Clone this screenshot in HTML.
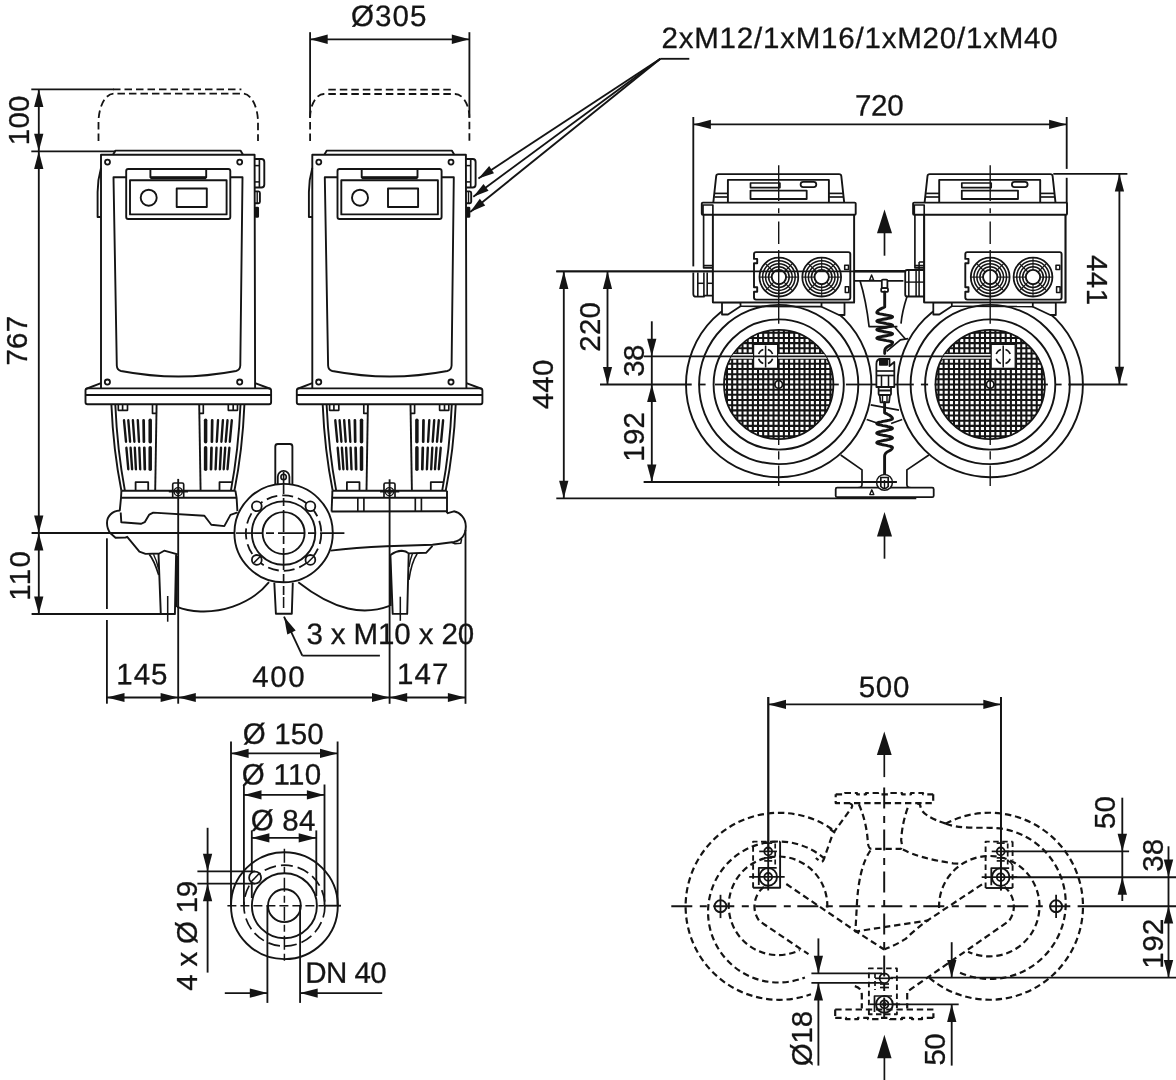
<!DOCTYPE html>
<html><head><meta charset="utf-8"><title>Dimension drawing</title>
<style>
html,body{margin:0;padding:0;background:#fff;}
svg{display:block;filter:grayscale(1);}
text{font-family:"Liberation Sans",sans-serif;fill:#141414;stroke:#141414;stroke-width:0.3px;}
</style></head>
<body>
<svg width="1176" height="1080" viewBox="0 0 1176 1080" fill="none" stroke="#141414" stroke-linecap="butt" stroke-linejoin="round">
<rect x="0" y="0" width="1176" height="1080" fill="#ffffff" stroke="none"/>
<line x1="31.3" y1="89.3" x2="113.8" y2="89.3" stroke-width="1.85"/>
<line x1="31.3" y1="151.3" x2="115.5" y2="151.3" stroke-width="1.85"/>
<line x1="38.8" y1="89.3" x2="38.8" y2="614.0" stroke-width="1.85"/>
<polygon points="38.8,89.3 43.4,106.9 34.1,106.9" fill="#141414" stroke="none"/>
<polygon points="38.8,151.3 34.1,133.7 43.4,133.7" fill="#141414" stroke="none"/>
<polygon points="38.8,151.3 43.4,168.9 34.1,168.9" fill="#141414" stroke="none"/>
<polygon points="38.8,533.0 34.1,515.4 43.4,515.4" fill="#141414" stroke="none"/>
<polygon points="38.8,533.0 43.4,550.6 34.1,550.6" fill="#141414" stroke="none"/>
<polygon points="38.8,614.0 34.1,596.4 43.4,596.4" fill="#141414" stroke="none"/>
<line x1="31.6" y1="533.0" x2="236.0" y2="533.0" stroke-width="1.85"/>
<line x1="31.6" y1="614.0" x2="175.2" y2="614.0" stroke-width="1.85"/>
<text x="29.5" y="120.4" font-size="29.5" text-anchor="middle" textLength="49.7" lengthAdjust="spacing" transform="rotate(-90 29.5 120.4)">100</text>
<text x="26.9" y="340.7" font-size="29.5" text-anchor="middle" textLength="49.7" lengthAdjust="spacing" transform="rotate(-90 26.9 340.7)">767</text>
<text x="30.0" y="576.0" font-size="29.5" text-anchor="middle" textLength="49.7" lengthAdjust="spacing" transform="rotate(-90 30.0 576.0)">110</text>
<line x1="310.1" y1="32.2" x2="310.1" y2="117.8" stroke-width="1.85"/>
<line x1="469.4" y1="32.2" x2="469.4" y2="117.8" stroke-width="1.85"/>
<line x1="310.1" y1="39.3" x2="469.4" y2="39.3" stroke-width="1.85"/>
<polygon points="310.1,39.3 327.7,34.6 327.7,43.9" fill="#141414" stroke="none"/>
<polygon points="469.4,39.3 451.8,43.9 451.8,34.6" fill="#141414" stroke="none"/>
<text x="388.7" y="26.0" font-size="29.5" text-anchor="middle" textLength="75.2" lengthAdjust="spacing" transform="rotate(0.03 388.7 26.0)">Ø305</text>
<line x1="106.9" y1="538.3" x2="106.9" y2="609.0" stroke-width="1.85"/>
<line x1="106.9" y1="620.0" x2="106.9" y2="703.7" stroke-width="1.85"/>
<line x1="178.2" y1="478.9" x2="178.2" y2="703.7" stroke-width="1.85"/>
<line x1="389.6" y1="479.3" x2="389.6" y2="703.8" stroke-width="1.85"/>
<line x1="465.5" y1="530.0" x2="465.5" y2="703.8" stroke-width="1.85"/>
<line x1="106.9" y1="697.5" x2="465.5" y2="697.5" stroke-width="1.85"/>
<polygon points="106.9,697.5 124.5,692.9 124.5,702.1" fill="#141414" stroke="none"/>
<polygon points="178.2,697.5 160.6,702.1 160.6,692.9" fill="#141414" stroke="none"/>
<polygon points="178.2,697.5 195.8,692.9 195.8,702.1" fill="#141414" stroke="none"/>
<polygon points="389.6,697.5 372.0,702.1 372.0,692.9" fill="#141414" stroke="none"/>
<polygon points="389.6,697.5 407.2,692.9 407.2,702.1" fill="#141414" stroke="none"/>
<polygon points="465.5,697.5 447.9,702.1 447.9,692.9" fill="#141414" stroke="none"/>
<text x="141.9" y="684.3" font-size="29.5" text-anchor="middle" textLength="51.2" lengthAdjust="spacing" transform="rotate(0.03 141.9 684.3)">145</text>
<text x="278.5" y="686.8" font-size="29.5" text-anchor="middle" textLength="52.5" lengthAdjust="spacing" transform="rotate(0.03 278.5 686.8)">400</text>
<text x="422.7" y="684.1" font-size="29.5" text-anchor="middle" textLength="51.2" lengthAdjust="spacing" transform="rotate(0.03 422.7 684.1)">147</text>
<text x="390.3" y="644.0" font-size="29.5" text-anchor="middle" textLength="167.6" lengthAdjust="spacing" transform="rotate(0.03 390.3 644.0)">3 x M10 x 20</text>
<line x1="302.3" y1="655.6" x2="379.9" y2="655.6" stroke-width="1.85"/>
<line x1="302.3" y1="655.6" x2="284.0" y2="616.7" stroke-width="1.85"/>
<polygon points="284.0,616.7 295.7,630.6 287.3,634.6" fill="#141414" stroke="none"/>
<text x="859.6" y="48.0" font-size="29.5" text-anchor="middle" textLength="396.2" lengthAdjust="spacing" transform="rotate(0.03 859.6 48.0)">2xM12/1xM16/1xM20/1xM40</text>
<line x1="660.4" y1="58.8" x2="689.3" y2="58.8" stroke-width="1.85"/>
<line x1="660.4" y1="58.8" x2="478.4" y2="178.4" stroke-width="1.85"/>
<polygon points="478.4,178.4 489.2,166.1 494.0,173.3" fill="#141414" stroke="none"/>
<line x1="660.4" y1="58.8" x2="473.3" y2="196.7" stroke-width="1.85"/>
<polygon points="473.3,196.7 483.5,183.9 488.6,190.8" fill="#141414" stroke="none"/>
<line x1="660.4" y1="58.8" x2="470.2" y2="212.0" stroke-width="1.85"/>
<polygon points="470.2,212.0 479.8,198.7 485.2,205.4" fill="#141414" stroke="none"/>
<line x1="693.3" y1="117.0" x2="693.3" y2="266.4" stroke-width="1.85"/>
<line x1="1066.7" y1="117.0" x2="1066.7" y2="168.9" stroke-width="1.85"/>
<line x1="1066.7" y1="177.8" x2="1066.7" y2="210.0" stroke-width="1.85"/>
<line x1="693.3" y1="124.4" x2="1066.7" y2="124.4" stroke-width="1.85"/>
<polygon points="693.3,124.4 710.9,119.8 710.9,129.1" fill="#141414" stroke="none"/>
<polygon points="1066.7,124.4 1049.1,129.1 1049.1,119.8" fill="#141414" stroke="none"/>
<text x="879.3" y="115.5" font-size="29.5" text-anchor="middle" textLength="48.7" lengthAdjust="spacing" transform="rotate(0.03 879.3 115.5)">720</text>
<line x1="556.3" y1="271.3" x2="904.6" y2="271.3" stroke-width="1.85"/>
<line x1="556.3" y1="498.3" x2="916.3" y2="498.3" stroke-width="1.85"/>
<line x1="563.8" y1="271.3" x2="563.8" y2="498.3" stroke-width="1.85"/>
<polygon points="563.8,271.3 568.4,288.9 559.1,288.9" fill="#141414" stroke="none"/>
<polygon points="563.8,498.3 559.1,480.7 568.4,480.7" fill="#141414" stroke="none"/>
<text x="553.0" y="384.5" font-size="29.5" text-anchor="middle" textLength="49.7" lengthAdjust="spacing" transform="rotate(-90 553.0 384.5)">440</text>
<line x1="607.5" y1="271.3" x2="607.5" y2="384.5" stroke-width="1.85"/>
<polygon points="607.5,271.3 612.1,288.9 602.9,288.9" fill="#141414" stroke="none"/>
<polygon points="607.5,384.5 602.9,366.9 612.1,366.9" fill="#141414" stroke="none"/>
<text x="600.0" y="326.9" font-size="29.5" text-anchor="middle" textLength="49.7" lengthAdjust="spacing" transform="rotate(-90 600.0 326.9)">220</text>
<line x1="651.8" y1="321.3" x2="651.8" y2="482.0" stroke-width="1.85"/>
<polygon points="651.8,356.3 647.1,338.7 656.4,338.7" fill="#141414" stroke="none"/>
<polygon points="651.8,384.5 656.4,402.1 647.1,402.1" fill="#141414" stroke="none"/>
<polygon points="651.8,482.0 647.1,464.4 656.4,464.4" fill="#141414" stroke="none"/>
<text x="643.8" y="360.6" font-size="29.5" text-anchor="middle" textLength="32.2" lengthAdjust="spacing" transform="rotate(-90 643.8 360.6)">38</text>
<text x="643.8" y="436.9" font-size="29.5" text-anchor="middle" textLength="49.7" lengthAdjust="spacing" transform="rotate(-90 643.8 436.9)">192</text>
<line x1="643.8" y1="482.0" x2="896.7" y2="482.0" stroke-width="1.85"/>
<line x1="1053.3" y1="173.9" x2="1127.4" y2="173.9" stroke-width="1.85"/>
<line x1="1119.4" y1="173.9" x2="1119.4" y2="384.3" stroke-width="1.85"/>
<polygon points="1119.4,173.9 1124.1,191.5 1114.8,191.5" fill="#141414" stroke="none"/>
<polygon points="1119.4,384.3 1114.8,366.7 1124.1,366.7" fill="#141414" stroke="none"/>
<text x="1087.4" y="280.0" font-size="29.5" text-anchor="middle" textLength="50.2" lengthAdjust="spacing" transform="rotate(90 1087.4 280.0)">441</text>
<line x1="884.5" y1="225.0" x2="884.5" y2="255.7" stroke-width="1.7"/>
<polygon points="884.5,209.6 892.0,233.3 877.0,233.3" fill="#141414" stroke="none"/>
<line x1="884.5" y1="530.0" x2="884.5" y2="558.7" stroke-width="1.7"/>
<polygon points="884.5,511.9 892.0,536.4 877.0,536.4" fill="#141414" stroke="none"/>
<line x1="231.0" y1="741.5" x2="231.0" y2="905.7" stroke-width="1.85"/>
<line x1="337.6" y1="741.5" x2="337.6" y2="905.7" stroke-width="1.85"/>
<line x1="243.9" y1="784.5" x2="243.9" y2="905.0" stroke-width="1.85"/>
<line x1="324.5" y1="784.5" x2="324.5" y2="905.7" stroke-width="1.85"/>
<line x1="251.8" y1="830.4" x2="251.8" y2="898.0" stroke-width="1.85"/>
<line x1="316.3" y1="830.4" x2="316.3" y2="896.0" stroke-width="1.85"/>
<line x1="324.5" y1="905.7" x2="341.0" y2="905.7" stroke-width="1.85"/>
<line x1="231.0" y1="753.4" x2="337.6" y2="753.4" stroke-width="1.85"/>
<polygon points="231.0,753.4 248.6,748.8 248.6,758.0" fill="#141414" stroke="none"/>
<polygon points="337.6,753.4 320.0,758.0 320.0,748.8" fill="#141414" stroke="none"/>
<line x1="243.9" y1="794.9" x2="324.5" y2="794.9" stroke-width="1.85"/>
<polygon points="243.9,794.9 261.5,790.2 261.5,799.5" fill="#141414" stroke="none"/>
<polygon points="324.5,794.9 306.9,799.5 306.9,790.2" fill="#141414" stroke="none"/>
<line x1="251.8" y1="837.9" x2="316.3" y2="837.9" stroke-width="1.85"/>
<polygon points="251.8,837.9 269.4,833.2 269.4,842.5" fill="#141414" stroke="none"/>
<polygon points="316.3,837.9 298.7,842.5 298.7,833.2" fill="#141414" stroke="none"/>
<text x="283.2" y="743.9" font-size="29.5" text-anchor="middle" textLength="80.9" lengthAdjust="spacing" transform="rotate(0.03 283.2 743.9)">Ø 150</text>
<text x="281.5" y="784.5" font-size="29.5" text-anchor="middle" textLength="79.4" lengthAdjust="spacing" transform="rotate(0.03 281.5 784.5)">Ø 110</text>
<text x="283.0" y="830.4" font-size="29.5" text-anchor="middle" textLength="64.6" lengthAdjust="spacing" transform="rotate(0.03 283.0 830.4)">Ø 84</text>
<line x1="197.4" y1="871.4" x2="255.0" y2="871.4" stroke-width="1.85"/>
<line x1="197.4" y1="883.6" x2="255.0" y2="883.6" stroke-width="1.85"/>
<line x1="207.6" y1="827.8" x2="207.6" y2="972.6" stroke-width="1.85"/>
<polygon points="207.6,871.4 202.9,853.8 212.2,853.8" fill="#141414" stroke="none"/>
<polygon points="207.6,883.6 212.2,901.2 202.9,901.2" fill="#141414" stroke="none"/>
<text x="197.4" y="935.7" font-size="29.5" text-anchor="middle" textLength="109.9" lengthAdjust="spacing" transform="rotate(-90 197.4 935.7)">4 x Ø 19</text>
<line x1="267.4" y1="905.7" x2="267.4" y2="1002.9" stroke-width="1.85"/>
<line x1="300.1" y1="905.7" x2="300.1" y2="1002.9" stroke-width="1.85"/>
<line x1="224.8" y1="993.1" x2="267.4" y2="993.1" stroke-width="1.85"/>
<polygon points="267.4,993.1 249.8,997.8 249.8,988.5" fill="#141414" stroke="none"/>
<line x1="300.1" y1="993.1" x2="382.2" y2="993.1" stroke-width="1.85"/>
<polygon points="300.1,993.1 317.7,988.5 317.7,997.8" fill="#141414" stroke="none"/>
<text x="346.0" y="982.8" font-size="29.5" text-anchor="middle" textLength="81.4" lengthAdjust="spacing" transform="rotate(0.03 346.0 982.8)">DN 40</text>
<line x1="768.4" y1="697.0" x2="768.4" y2="851.0" stroke-width="1.85"/>
<line x1="1000.9" y1="697.0" x2="1000.9" y2="890.4" stroke-width="1.85"/>
<line x1="768.4" y1="704.4" x2="1000.9" y2="704.4" stroke-width="1.85"/>
<polygon points="768.4,704.4 786.0,699.8 786.0,709.0" fill="#141414" stroke="none"/>
<polygon points="1000.9,704.4 983.3,709.0 983.3,699.8" fill="#141414" stroke="none"/>
<text x="884.0" y="697.0" font-size="29.5" text-anchor="middle" textLength="50.6" lengthAdjust="spacing" transform="rotate(0.03 884.0 697.0)">500</text>
<line x1="884.3" y1="750.0" x2="884.3" y2="777.1" stroke-width="1.7"/>
<polygon points="884.3,731.5 891.7,755.0 876.9,755.0" fill="#141414" stroke="none"/>
<line x1="884.4" y1="1055.0" x2="884.4" y2="1080.0" stroke-width="1.7"/>
<polygon points="884.4,1034.8 891.6,1058.3 877.2,1058.3" fill="#141414" stroke="none"/>
<line x1="1005.0" y1="851.4" x2="1129.1" y2="851.4" stroke-width="1.85"/>
<line x1="1010.0" y1="877.2" x2="1176.0" y2="877.2" stroke-width="1.85"/>
<line x1="1077.8" y1="906.2" x2="1176.0" y2="906.2" stroke-width="1.85"/>
<line x1="890.4" y1="977.6" x2="1176.0" y2="977.6" stroke-width="1.85"/>
<line x1="1122.3" y1="797.7" x2="1122.3" y2="901.0" stroke-width="1.85"/>
<polygon points="1122.3,851.4 1117.6,833.8 1127.0,833.8" fill="#141414" stroke="none"/>
<polygon points="1122.3,877.2 1127.0,894.8 1117.6,894.8" fill="#141414" stroke="none"/>
<line x1="1168.5" y1="846.3" x2="1168.5" y2="977.6" stroke-width="1.85"/>
<polygon points="1168.5,877.2 1163.8,859.6 1173.2,859.6" fill="#141414" stroke="none"/>
<polygon points="1168.5,905.9 1173.2,923.5 1163.8,923.5" fill="#141414" stroke="none"/>
<polygon points="1168.5,977.6 1163.8,960.0 1173.2,960.0" fill="#141414" stroke="none"/>
<text x="1115.3" y="812.6" font-size="29.5" text-anchor="middle" textLength="33.0" lengthAdjust="spacing" transform="rotate(-90 1115.3 812.6)">50</text>
<text x="1162.8" y="855.2" font-size="29.5" text-anchor="middle" textLength="33.0" lengthAdjust="spacing" transform="rotate(-90 1162.8 855.2)">38</text>
<text x="1162.8" y="943.6" font-size="29.5" text-anchor="middle" textLength="50.1" lengthAdjust="spacing" transform="rotate(-90 1162.8 943.6)">192</text>
<line x1="811.4" y1="973.4" x2="882.0" y2="973.4" stroke-width="1.85"/>
<line x1="811.4" y1="982.9" x2="882.0" y2="982.9" stroke-width="1.85"/>
<line x1="818.4" y1="938.4" x2="818.4" y2="973.4" stroke-width="1.85"/>
<polygon points="818.4,973.4 813.8,955.8 823.0,955.8" fill="#141414" stroke="none"/>
<line x1="818.4" y1="982.9" x2="818.4" y2="1065.6" stroke-width="1.85"/>
<polygon points="818.4,982.9 823.0,1000.5 813.8,1000.5" fill="#141414" stroke="none"/>
<text x="811.8" y="1038.5" font-size="29.5" text-anchor="middle" textLength="55.6" lengthAdjust="spacing" transform="rotate(-90 811.8 1038.5)">Ø18</text>
<line x1="893.0" y1="1004.3" x2="958.7" y2="1004.3" stroke-width="1.85"/>
<line x1="951.7" y1="942.2" x2="951.7" y2="977.6" stroke-width="1.85"/>
<polygon points="951.7,977.6 947.1,960.0 956.4,960.0" fill="#141414" stroke="none"/>
<line x1="951.7" y1="1004.3" x2="951.7" y2="1065.6" stroke-width="1.85"/>
<polygon points="951.7,1004.3 956.4,1021.9 947.1,1021.9" fill="#141414" stroke="none"/>
<text x="944.6" y="1049.3" font-size="29.5" text-anchor="middle" textLength="32.2" lengthAdjust="spacing" transform="rotate(-90 944.6 1049.3)">50</text>
<g transform="translate(0,0)">
<path d="M113,89.4 L241.4,89.4" stroke-width="1.8" fill="none" stroke-dasharray="7.5 4"/>
<path d="M98.5,140.9 L98.5,122.5 A15.3,28.9 0 0 1 113.8,93.6 L242.7,93.6 A15.3,28.9 0 0 1 258,122.5 L258,140.9" stroke-width="1.8" fill="none" stroke-dasharray="7.5 4"/>
<path d="M113,154.8 L115.5,150.6 L240.5,150.6 L243,154.8" stroke-width="1.9" fill="none"/>
<path d="M101,388.4 L101,154.8 L254.6,154.8 L255.1,388.4" stroke-width="1.9" fill="none"/>
<circle cx="107.5" cy="162.1" r="2.5" stroke-width="1.79" fill="none"/>
<circle cx="239.7" cy="162.1" r="2.5" stroke-width="1.79" fill="none"/>
<circle cx="107.4" cy="382.1" r="2.6" stroke-width="1.79" fill="none"/>
<circle cx="239.7" cy="382.1" r="2.6" stroke-width="1.79" fill="none"/>
<rect x="126.2" y="169.0" width="104.1" height="50.0" rx="2" stroke-width="1.9" fill="none"/>
<rect x="130.0" y="180.3" width="96.6" height="34.1" rx="0" stroke-width="1.9" fill="none"/>
<path d="M150.4,169 L150.4,177.2 L206.2,177.2 L206.2,169" stroke-width="1.9" fill="none"/>
<line x1="150.4" y1="178.0" x2="206.2" y2="178.0" stroke-width="2.6"/>
<circle cx="148.7" cy="197.7" r="8.0" stroke-width="1.9" fill="none"/>
<rect x="176.7" y="188.5" width="30.1" height="18.5" rx="0" stroke-width="1.9" fill="none"/>
<path d="M126.2,177.3 L113.5,177.3 L116.8,365.5 Q117,370 121,371 Q178.5,382 236,371 Q240,370 240.3,365.5 L242.5,177.3 L230.3,177.3" stroke-width="1.9" fill="none"/>
<path d="M101,168 Q97.6,180 97.6,192 L97.6,217 L101,217" stroke-width="1.9" fill="none"/>
<path d="M254.6,159 L261.5,159 Q264.3,159 264.3,162 L264.3,184.5 Q264.3,187.5 261.5,187.5 L254.6,187.5" stroke-width="1.9" fill="none"/>
<line x1="259.4" y1="159.0" x2="259.4" y2="187.5" stroke-width="1.66"/>
<line x1="254.6" y1="165.6" x2="259.4" y2="165.6" stroke-width="1.54"/>
<line x1="254.6" y1="181.9" x2="259.4" y2="181.9" stroke-width="1.54"/>
<path d="M254.8,191.4 L258.5,191.4 Q259.9,191.4 259.9,193 L259.9,201.8 Q259.9,203.3 258.5,203.3 L254.8,203.3" stroke-width="1.9" fill="none"/>
<line x1="257.2" y1="191.4" x2="257.2" y2="203.3" stroke-width="1.41"/>
<rect x="255.6" y="207.5" width="2.6" height="9.5" rx="0.5" stroke-width="1.66" fill="#141414"/>
<path d="M101,383.2 L85.8,389" stroke-width="1.9" fill="none"/>
<path d="M255.1,383.2 L270.8,389" stroke-width="1.9" fill="none"/>
<rect x="85.5" y="388.4" width="185.6" height="15.9" rx="2" stroke-width="1.9" fill="none"/>
<line x1="85.5" y1="395.0" x2="271.1" y2="395.0" stroke-width="1.9"/>
</g>
<g transform="translate(211.3,0)">
<path d="M117,89.6 L241.5,89.6" stroke-width="1.8" fill="none" stroke-dasharray="7.5 4"/>
<path d="M98.8,141 L98.8,117.8 A13.8,23.8 0 0 1 112.6,94 L243.7,94 A14.4,23.8 0 0 1 258.1,117.8 L258.1,141" stroke-width="1.8" fill="none" stroke-dasharray="7.5 4"/>
<path d="M113,154.8 L115.5,150.6 L240.5,150.6 L243,154.8" stroke-width="1.9" fill="none"/>
<path d="M101,388.4 L101,154.8 L254.6,154.8 L255.1,388.4" stroke-width="1.9" fill="none"/>
<circle cx="107.5" cy="162.1" r="2.5" stroke-width="1.79" fill="none"/>
<circle cx="239.7" cy="162.1" r="2.5" stroke-width="1.79" fill="none"/>
<circle cx="107.4" cy="382.1" r="2.6" stroke-width="1.79" fill="none"/>
<circle cx="239.7" cy="382.1" r="2.6" stroke-width="1.79" fill="none"/>
<rect x="126.2" y="169.0" width="104.1" height="50.0" rx="2" stroke-width="1.9" fill="none"/>
<rect x="130.0" y="180.3" width="96.6" height="34.1" rx="0" stroke-width="1.9" fill="none"/>
<path d="M150.4,169 L150.4,177.2 L206.2,177.2 L206.2,169" stroke-width="1.9" fill="none"/>
<line x1="150.4" y1="178.0" x2="206.2" y2="178.0" stroke-width="2.6"/>
<circle cx="148.7" cy="197.7" r="8.0" stroke-width="1.9" fill="none"/>
<rect x="176.7" y="188.5" width="30.1" height="18.5" rx="0" stroke-width="1.9" fill="none"/>
<path d="M126.2,177.3 L113.5,177.3 L116.8,365.5 Q117,370 121,371 Q178.5,382 236,371 Q240,370 240.3,365.5 L242.5,177.3 L230.3,177.3" stroke-width="1.9" fill="none"/>
<path d="M101,168 Q97.6,180 97.6,192 L97.6,217 L101,217" stroke-width="1.9" fill="none"/>
<path d="M254.6,159 L261.5,159 Q264.3,159 264.3,162 L264.3,184.5 Q264.3,187.5 261.5,187.5 L254.6,187.5" stroke-width="1.9" fill="none"/>
<line x1="259.4" y1="159.0" x2="259.4" y2="187.5" stroke-width="1.66"/>
<line x1="254.6" y1="165.6" x2="259.4" y2="165.6" stroke-width="1.54"/>
<line x1="254.6" y1="181.9" x2="259.4" y2="181.9" stroke-width="1.54"/>
<path d="M254.8,191.4 L258.5,191.4 Q259.9,191.4 259.9,193 L259.9,201.8 Q259.9,203.3 258.5,203.3 L254.8,203.3" stroke-width="1.9" fill="none"/>
<line x1="257.2" y1="191.4" x2="257.2" y2="203.3" stroke-width="1.41"/>
<rect x="255.6" y="207.5" width="2.6" height="9.5" rx="0.5" stroke-width="1.66" fill="#141414"/>
<path d="M101,383.2 L85.8,389" stroke-width="1.9" fill="none"/>
<path d="M255.1,383.2 L270.8,389" stroke-width="1.9" fill="none"/>
<rect x="85.5" y="388.4" width="185.6" height="15.9" rx="2" stroke-width="1.9" fill="none"/>
<line x1="85.5" y1="395.0" x2="271.1" y2="395.0" stroke-width="1.9"/>
</g>
<g transform="translate(0,0)">
<path d="M111.4,404.6 Q113.3,450 121.4,490.7" stroke-width="1.9" fill="none"/>
<path d="M115.3,404.6 Q117.3,450 124.9,490.7" stroke-width="1.9" fill="none"/>
<path d="M156.6,404.6 L155.2,490.7" stroke-width="1.9" fill="none"/>
<path d="M118.3,404.6 L118.3,410.3 L127.5,410.3 L127.5,404.6 M122.6,404.6 L122.6,410.3" stroke-width="1.66" fill="none"/>
<path d="M152.5,404.6 L152.5,413.4 L156.3,413.4" stroke-width="1.66" fill="none"/>
<path d="M135.6,490.7 L135.6,482.2 L148.2,482.2 L148.2,490.7" stroke-width="1.79" fill="none"/>
<line x1="124.0" y1="420.3" x2="126.0" y2="441.7" stroke-width="2.4" stroke-linecap="round"/>
<line x1="128.3" y1="420.3" x2="130.1" y2="441.7" stroke-width="2.4" stroke-linecap="round"/>
<line x1="132.9" y1="420.3" x2="134.4" y2="441.7" stroke-width="2.4" stroke-linecap="round"/>
<line x1="137.8" y1="420.3" x2="139.0" y2="441.7" stroke-width="2.4" stroke-linecap="round"/>
<line x1="143.6" y1="420.3" x2="143.9" y2="441.7" stroke-width="2.7" stroke-linecap="round"/>
<line x1="150.2" y1="420.3" x2="150.2" y2="441.7" stroke-width="3.5" stroke-linecap="round"/>
<line x1="126.4" y1="447.8" x2="128.3" y2="469.2" stroke-width="2.4" stroke-linecap="round"/>
<line x1="130.6" y1="447.8" x2="132.1" y2="469.2" stroke-width="2.4" stroke-linecap="round"/>
<line x1="134.8" y1="447.8" x2="135.9" y2="469.2" stroke-width="2.4" stroke-linecap="round"/>
<line x1="139.3" y1="447.8" x2="140.2" y2="469.2" stroke-width="2.4" stroke-linecap="round"/>
<line x1="144.3" y1="447.8" x2="144.8" y2="469.2" stroke-width="2.7" stroke-linecap="round"/>
<line x1="150.2" y1="447.8" x2="150.2" y2="469.2" stroke-width="3.5" stroke-linecap="round"/>
</g>
<g transform="translate(0,0) translate(355.8,0) scale(-1,1)">
<path d="M111.4,404.6 Q113.3,450 121.4,490.7" stroke-width="1.9" fill="none"/>
<path d="M115.3,404.6 Q117.3,450 124.9,490.7" stroke-width="1.9" fill="none"/>
<path d="M156.6,404.6 L155.2,490.7" stroke-width="1.9" fill="none"/>
<path d="M118.3,404.6 L118.3,410.3 L127.5,410.3 L127.5,404.6 M122.6,404.6 L122.6,410.3" stroke-width="1.66" fill="none"/>
<path d="M152.5,404.6 L152.5,413.4 L156.3,413.4" stroke-width="1.66" fill="none"/>
<path d="M123.9,482.2 L136.3,482.2 L136.3,490.7" stroke-width="1.79" fill="none"/>
<line x1="124.0" y1="420.3" x2="126.0" y2="441.7" stroke-width="2.4" stroke-linecap="round"/>
<line x1="128.3" y1="420.3" x2="130.1" y2="441.7" stroke-width="2.4" stroke-linecap="round"/>
<line x1="132.9" y1="420.3" x2="134.4" y2="441.7" stroke-width="2.4" stroke-linecap="round"/>
<line x1="137.8" y1="420.3" x2="139.0" y2="441.7" stroke-width="2.4" stroke-linecap="round"/>
<line x1="143.6" y1="420.3" x2="143.9" y2="441.7" stroke-width="2.7" stroke-linecap="round"/>
<line x1="150.2" y1="420.3" x2="150.2" y2="441.7" stroke-width="3.5" stroke-linecap="round"/>
<line x1="126.4" y1="447.8" x2="128.3" y2="469.2" stroke-width="2.4" stroke-linecap="round"/>
<line x1="130.6" y1="447.8" x2="132.1" y2="469.2" stroke-width="2.4" stroke-linecap="round"/>
<line x1="134.8" y1="447.8" x2="135.9" y2="469.2" stroke-width="2.4" stroke-linecap="round"/>
<line x1="139.3" y1="447.8" x2="140.2" y2="469.2" stroke-width="2.4" stroke-linecap="round"/>
<line x1="144.3" y1="447.8" x2="144.8" y2="469.2" stroke-width="2.7" stroke-linecap="round"/>
<line x1="150.2" y1="447.8" x2="150.2" y2="469.2" stroke-width="3.5" stroke-linecap="round"/>
</g>
<g transform="translate(0,0)">
<line x1="121.4" y1="490.7" x2="235.4" y2="490.7" stroke-width="1.9"/>
<line x1="121.2" y1="497.7" x2="236.4" y2="497.7" stroke-width="1.9"/>
<path d="M172.7,497.7 L172.7,484.5 Q172.7,483 174.2,483 L182.2,483 Q183.7,483 183.7,484.5 L183.7,497.7" stroke-width="1.66" fill="none"/>
<circle cx="178.2" cy="491.7" r="4.1" stroke-width="1.4" fill="none"/>
<circle cx="178.2" cy="491.7" r="1.8" stroke-width="1.1" fill="none"/>
<line x1="168.8" y1="491.7" x2="188.0" y2="491.7" stroke-width="1.54"/>
</g>
<g transform="translate(211.3,0)">
<path d="M111.4,404.6 Q113.3,450 121.4,490.7" stroke-width="1.9" fill="none"/>
<path d="M115.3,404.6 Q117.3,450 124.9,490.7" stroke-width="1.9" fill="none"/>
<path d="M156.6,404.6 L155.2,490.7" stroke-width="1.9" fill="none"/>
<path d="M118.3,404.6 L118.3,410.3 L127.5,410.3 L127.5,404.6 M122.6,404.6 L122.6,410.3" stroke-width="1.66" fill="none"/>
<path d="M152.5,404.6 L152.5,413.4 L156.3,413.4" stroke-width="1.66" fill="none"/>
<path d="M135.6,490.7 L135.6,482.2 L148.2,482.2 L148.2,490.7" stroke-width="1.79" fill="none"/>
<line x1="124.0" y1="420.3" x2="126.0" y2="441.7" stroke-width="2.4" stroke-linecap="round"/>
<line x1="128.3" y1="420.3" x2="130.1" y2="441.7" stroke-width="2.4" stroke-linecap="round"/>
<line x1="132.9" y1="420.3" x2="134.4" y2="441.7" stroke-width="2.4" stroke-linecap="round"/>
<line x1="137.8" y1="420.3" x2="139.0" y2="441.7" stroke-width="2.4" stroke-linecap="round"/>
<line x1="143.6" y1="420.3" x2="143.9" y2="441.7" stroke-width="2.7" stroke-linecap="round"/>
<line x1="150.2" y1="420.3" x2="150.2" y2="441.7" stroke-width="3.5" stroke-linecap="round"/>
<line x1="126.4" y1="447.8" x2="128.3" y2="469.2" stroke-width="2.4" stroke-linecap="round"/>
<line x1="130.6" y1="447.8" x2="132.1" y2="469.2" stroke-width="2.4" stroke-linecap="round"/>
<line x1="134.8" y1="447.8" x2="135.9" y2="469.2" stroke-width="2.4" stroke-linecap="round"/>
<line x1="139.3" y1="447.8" x2="140.2" y2="469.2" stroke-width="2.4" stroke-linecap="round"/>
<line x1="144.3" y1="447.8" x2="144.8" y2="469.2" stroke-width="2.7" stroke-linecap="round"/>
<line x1="150.2" y1="447.8" x2="150.2" y2="469.2" stroke-width="3.5" stroke-linecap="round"/>
</g>
<g transform="translate(211.3,0) translate(355.8,0) scale(-1,1)">
<path d="M111.4,404.6 Q113.3,450 121.4,490.7" stroke-width="1.9" fill="none"/>
<path d="M115.3,404.6 Q117.3,450 124.9,490.7" stroke-width="1.9" fill="none"/>
<path d="M156.6,404.6 L155.2,490.7" stroke-width="1.9" fill="none"/>
<path d="M118.3,404.6 L118.3,410.3 L127.5,410.3 L127.5,404.6 M122.6,404.6 L122.6,410.3" stroke-width="1.66" fill="none"/>
<path d="M152.5,404.6 L152.5,413.4 L156.3,413.4" stroke-width="1.66" fill="none"/>
<path d="M123.9,482.2 L136.3,482.2 L136.3,490.7" stroke-width="1.79" fill="none"/>
<line x1="124.0" y1="420.3" x2="126.0" y2="441.7" stroke-width="2.4" stroke-linecap="round"/>
<line x1="128.3" y1="420.3" x2="130.1" y2="441.7" stroke-width="2.4" stroke-linecap="round"/>
<line x1="132.9" y1="420.3" x2="134.4" y2="441.7" stroke-width="2.4" stroke-linecap="round"/>
<line x1="137.8" y1="420.3" x2="139.0" y2="441.7" stroke-width="2.4" stroke-linecap="round"/>
<line x1="143.6" y1="420.3" x2="143.9" y2="441.7" stroke-width="2.7" stroke-linecap="round"/>
<line x1="150.2" y1="420.3" x2="150.2" y2="441.7" stroke-width="3.5" stroke-linecap="round"/>
<line x1="126.4" y1="447.8" x2="128.3" y2="469.2" stroke-width="2.4" stroke-linecap="round"/>
<line x1="130.6" y1="447.8" x2="132.1" y2="469.2" stroke-width="2.4" stroke-linecap="round"/>
<line x1="134.8" y1="447.8" x2="135.9" y2="469.2" stroke-width="2.4" stroke-linecap="round"/>
<line x1="139.3" y1="447.8" x2="140.2" y2="469.2" stroke-width="2.4" stroke-linecap="round"/>
<line x1="144.3" y1="447.8" x2="144.8" y2="469.2" stroke-width="2.7" stroke-linecap="round"/>
<line x1="150.2" y1="447.8" x2="150.2" y2="469.2" stroke-width="3.5" stroke-linecap="round"/>
</g>
<g transform="translate(211.3,0)">
<line x1="121.4" y1="490.7" x2="235.4" y2="490.7" stroke-width="1.9"/>
<line x1="121.2" y1="497.7" x2="236.4" y2="497.7" stroke-width="1.9"/>
<path d="M172.7,497.7 L172.7,484.5 Q172.7,483 174.2,483 L182.2,483 Q183.7,483 183.7,484.5 L183.7,497.7" stroke-width="1.66" fill="none"/>
<circle cx="178.2" cy="491.7" r="4.1" stroke-width="1.4" fill="none"/>
<circle cx="178.2" cy="491.7" r="1.8" stroke-width="1.1" fill="none"/>
<line x1="168.8" y1="491.7" x2="188.0" y2="491.7" stroke-width="1.54"/>
</g>
<path d="M121.4,490.7 L121,497.8 L119.8,510.5 C112,511 106.8,516.5 107,523.3 C107.1,528 108.5,531 110.5,533.3 L115.5,537.7 L125.3,537.6 L127.2,536.8 L139.4,551.6 L145.5,553.9 L159.3,553.5 L164.2,550.7 L177.7,554.4" stroke-width="1.9" fill="none"/>
<path d="M120.7,512.5 L121.3,522.2 L140.9,523.8 L144.7,522.2 L149.3,514.6 L153.2,512.6 L204.4,515.7 L211.3,524.8 L224.3,526.1 L230.5,514.9 L237.6,512.3" stroke-width="1.9" fill="none"/>
<path d="M235.4,490.7 L236.6,497.8 L237.4,511" stroke-width="1.9" fill="none"/>
<path d="M158.5,553.9 L160.8,614.1 L174.9,614.1 L176.1,554.4" stroke-width="1.9" fill="none"/>
<path d="M149.3,554.4 Q154,560 158.7,575" stroke-width="1.66" fill="none"/>
<path d="M153.5,554.2 Q156.5,560 158.6,569" stroke-width="1.41" fill="none"/>
<line x1="167.7" y1="596.0" x2="167.7" y2="621.7" stroke-width="1.54"/>
<path d="M177,606.9 C188,611.5 210,614.5 232.8,606.7 C250,600.5 262,591 269,582.2" stroke-width="1.9" fill="none"/>
<line x1="177.2" y1="556.0" x2="176.6" y2="607.0" stroke-width="2.0"/>
<path d="M332.4,490.7 L331.6,511.5" stroke-width="1.9" fill="none"/>
<path d="M447,490.7 L447,513.3" stroke-width="1.9" fill="none"/>
<path d="M331.4,511.5 L447,511.3" stroke-width="1.9" fill="none"/>
<line x1="357.8" y1="497.7" x2="357.8" y2="511.3" stroke-width="1.66"/>
<line x1="363.9" y1="497.7" x2="363.9" y2="511.3" stroke-width="1.66"/>
<line x1="415.3" y1="497.7" x2="415.3" y2="511.3" stroke-width="1.66"/>
<line x1="421.4" y1="497.7" x2="421.4" y2="511.3" stroke-width="1.66"/>
<path d="M447,513.3 L453.9,511.3 C460,512.5 465.8,518 465.8,526.6 C465.8,535 461,540.5 453.9,542 L432.5,544.7 L386.5,546.2 Q355,547.5 330.5,550.6" stroke-width="1.9" fill="none"/>
<path d="M451.5,542.4 L455,543.7 L460.8,543.2 L461.6,539.2" stroke-width="1.54" fill="none"/>
<path d="M390.4,555 L392.7,613.9 L407.2,613.9 L408.7,553.4" stroke-width="1.9" fill="none"/>
<path d="M390.4,555 Q396,551 401.8,550.8 Q406,551 408.7,553.4 L426.3,552.7 L432.5,545.8" stroke-width="1.9" fill="none"/>
<path d="M417.1,553.9 Q411.5,562 408.9,580" stroke-width="1.66" fill="none"/>
<path d="M412.5,553.6 Q410,560 409,567" stroke-width="1.41" fill="none"/>
<line x1="400.3" y1="596.7" x2="400.3" y2="620.8" stroke-width="1.54"/>
<line x1="390.0" y1="556.0" x2="390.6" y2="606.0" stroke-width="2.0"/>
<path d="M389.6,605.9 C380,609.5 365,612.5 348,608.5 C330,604 312,593 298.3,582.2" stroke-width="1.9" fill="none"/>
<path d="M275.3,484.4 L275.3,446.5 Q275.3,444 277.8,444 L289.9,444 Q292.4,444 292.4,446.5 L292.4,484.4" stroke-width="1.9" fill="none"/>
<path d="M274.3,582.6 L275.9,613.7 L291.8,613.7 L292.8,582.6" stroke-width="1.9" fill="none"/>
<circle cx="283.6" cy="533.1" r="49.2" stroke-width="1.9" fill="#fff"/>
<circle cx="283.6" cy="533.1" r="31.7" stroke-width="1.9" fill="none"/>
<circle cx="283.6" cy="533.1" r="21.0" stroke-width="1.9" fill="none"/>
<circle cx="283.6" cy="533.1" r="37.7" stroke-width="1.79" fill="none" stroke-dasharray="11 5"/>
<circle cx="256.8" cy="506.3" r="4.9" stroke-width="1.79" fill="#fff"/>
<circle cx="256.8" cy="559.9" r="4.9" stroke-width="1.79" fill="#fff"/>
<line x1="253.4" y1="563.3" x2="260.2" y2="556.5" stroke-width="1.54"/>
<circle cx="310.4" cy="506.3" r="4.9" stroke-width="1.79" fill="#fff"/>
<circle cx="310.4" cy="559.9" r="4.9" stroke-width="1.79" fill="#fff"/>
<line x1="307.0" y1="563.3" x2="313.8" y2="556.5" stroke-width="1.54"/>
<path d="M277.8,484.3 L277.8,476.7 A5.8,5.8 0 0 1 289.40000000000003,476.7 L289.40000000000003,484.3" stroke-width="1.79" fill="none"/>
<circle cx="283.6" cy="476.9" r="2.7" stroke-width="1.6" fill="none"/>
<line x1="236.0" y1="533.1" x2="344.4" y2="533.1" stroke-width="1.66" stroke-dasharray="26 4 8 4"/>
<path d="M283.6,472 L283.6,595" stroke-width="1.66" fill="none" stroke-dasharray="22 4 8 4"/>
<line x1="283.6" y1="597.0" x2="283.6" y2="608.0" stroke-width="1.54"/>
<defs>
<clipPath id="mc0"><circle cx="778.7" cy="384.5" r="54.7"/></clipPath>
<clipPath id="mc1"><circle cx="990.2" cy="384.5" r="54.7"/></clipPath>
</defs>
<g transform="translate(0.0,0)">
</g>
<circle cx="778.7" cy="384.5" r="92.7" stroke-width="1.9" fill="#fff"/>
<g transform="translate(0.0,0)">
<path d="M722,302.4 L722,314.5 L728,314.5 L740.5,306.2 L740.5,302.4 Z" stroke-width="1.79" fill="#fff"/>
<path d="M844.5,302.4 L844.5,315 L839,315 L821.5,306.8 L821.5,302.4 Z" stroke-width="1.79" fill="#fff"/>
<line x1="740.5" y1="306.3" x2="821.5" y2="306.6" stroke-width="1.6"/>
</g>
<circle cx="778.7" cy="384.5" r="79.6" stroke-width="1.9" fill="none"/>
<circle cx="778.7" cy="384.5" r="65.1" stroke-width="1.9" fill="none"/>
<g clip-path="url(#mc0)" stroke-width="2.05">
<line x1="721.83" y1="328.5" x2="721.83" y2="440.5"/>
<line x1="722.7" y1="327.63" x2="834.7" y2="327.63"/>
<line x1="727.00" y1="328.5" x2="727.00" y2="440.5"/>
<line x1="722.7" y1="332.80" x2="834.7" y2="332.80"/>
<line x1="732.17" y1="328.5" x2="732.17" y2="440.5"/>
<line x1="722.7" y1="337.97" x2="834.7" y2="337.97"/>
<line x1="737.34" y1="328.5" x2="737.34" y2="440.5"/>
<line x1="722.7" y1="343.14" x2="834.7" y2="343.14"/>
<line x1="742.51" y1="328.5" x2="742.51" y2="440.5"/>
<line x1="722.7" y1="348.31" x2="834.7" y2="348.31"/>
<line x1="747.68" y1="328.5" x2="747.68" y2="440.5"/>
<line x1="722.7" y1="353.48" x2="834.7" y2="353.48"/>
<line x1="752.85" y1="328.5" x2="752.85" y2="440.5"/>
<line x1="722.7" y1="358.65" x2="834.7" y2="358.65"/>
<line x1="758.02" y1="328.5" x2="758.02" y2="440.5"/>
<line x1="722.7" y1="363.82" x2="834.7" y2="363.82"/>
<line x1="763.19" y1="328.5" x2="763.19" y2="440.5"/>
<line x1="722.7" y1="368.99" x2="834.7" y2="368.99"/>
<line x1="768.36" y1="328.5" x2="768.36" y2="440.5"/>
<line x1="722.7" y1="374.16" x2="834.7" y2="374.16"/>
<line x1="773.53" y1="328.5" x2="773.53" y2="440.5"/>
<line x1="722.7" y1="379.33" x2="834.7" y2="379.33"/>
<line x1="778.70" y1="328.5" x2="778.70" y2="440.5"/>
<line x1="722.7" y1="384.50" x2="834.7" y2="384.50"/>
<line x1="783.87" y1="328.5" x2="783.87" y2="440.5"/>
<line x1="722.7" y1="389.67" x2="834.7" y2="389.67"/>
<line x1="789.04" y1="328.5" x2="789.04" y2="440.5"/>
<line x1="722.7" y1="394.84" x2="834.7" y2="394.84"/>
<line x1="794.21" y1="328.5" x2="794.21" y2="440.5"/>
<line x1="722.7" y1="400.01" x2="834.7" y2="400.01"/>
<line x1="799.38" y1="328.5" x2="799.38" y2="440.5"/>
<line x1="722.7" y1="405.18" x2="834.7" y2="405.18"/>
<line x1="804.55" y1="328.5" x2="804.55" y2="440.5"/>
<line x1="722.7" y1="410.35" x2="834.7" y2="410.35"/>
<line x1="809.72" y1="328.5" x2="809.72" y2="440.5"/>
<line x1="722.7" y1="415.52" x2="834.7" y2="415.52"/>
<line x1="814.89" y1="328.5" x2="814.89" y2="440.5"/>
<line x1="722.7" y1="420.69" x2="834.7" y2="420.69"/>
<line x1="820.06" y1="328.5" x2="820.06" y2="440.5"/>
<line x1="722.7" y1="425.86" x2="834.7" y2="425.86"/>
<line x1="825.23" y1="328.5" x2="825.23" y2="440.5"/>
<line x1="722.7" y1="431.03" x2="834.7" y2="431.03"/>
<line x1="830.40" y1="328.5" x2="830.40" y2="440.5"/>
<line x1="722.7" y1="436.20" x2="834.7" y2="436.20"/>
<line x1="835.57" y1="328.5" x2="835.57" y2="440.5"/>
<line x1="722.7" y1="441.37" x2="834.7" y2="441.37"/>
</g>
<circle cx="778.7" cy="384.5" r="54.7" stroke-width="1.8" fill="none"/>
<g clip-path="url(#mc0)"><rect x="722.7" y="354.1" width="112" height="4.6" fill="#fff" stroke="none"/></g>
<rect x="753.6" y="344.4" width="24" height="24" fill="#fff" stroke-width="1.2"/>
<path d="M772.6,358.7 A7.4,7.4 0 0 1 767.9,363.4" stroke-width="1.6" fill="none"/>
<path d="M763.3,363.4 A7.4,7.4 0 0 1 758.6,358.7" stroke-width="1.6" fill="none"/>
<path d="M758.6,354.1 A7.4,7.4 0 0 1 763.3,349.4" stroke-width="1.6" fill="none"/>
<path d="M767.9,349.4 A7.4,7.4 0 0 1 772.6,354.1" stroke-width="1.6" fill="none"/>
<line x1="765.6" y1="345.5" x2="765.6" y2="367.5" stroke-width="1.54"/>
<circle cx="778.7" cy="384.5" r="3.8" stroke-width="1.79" fill="#fff"/>
<line x1="778.7" y1="380.7" x2="778.7" y2="388.3" stroke-width="1.66"/>
<g transform="translate(0.0,0)">
<path d="M712.9,302.4 L712.9,214.8 M854.1,214.8 L854.1,302.4 L712.9,302.4" stroke-width="1.9" fill="none"/>
<rect x="712.9" y="214.8" width="141.2" height="87.6" fill="#fff" stroke="none"/>
<path d="M712.9,214.8 L712.9,302.4 L854.1,302.4 L854.1,214.8" stroke-width="1.9" fill="none"/>
<rect x="701.8" y="202.6" width="153.9" height="12.2" rx="1" stroke-width="1.9" fill="#fff"/>
<path d="M703,214.8 L703,205 L712.9,205 L712.9,214.8" stroke-width="1.66" fill="none"/>
<path d="M703.6,214.8 L703.6,267.9 L712.9,267.9 M703.6,265.6 L712.9,265.6" stroke-width="1.66" fill="none"/>
<path d="M713.3,202.6 L716.2,176 Q716.4,174.1 718.5,174.1 L839,174.1 Q841.1,174.1 841.3,176 L844.2,202.6" stroke-width="1.9" fill="none"/>
<path d="M727.9,202.6 L727.9,179.9 L828.9,179.9 L828.9,202.6" stroke-width="1.9" fill="none"/>
<line x1="714.8" y1="193.4" x2="727.9" y2="193.4" stroke-width="1.66"/>
<line x1="714.4" y1="197.0" x2="727.9" y2="197.0" stroke-width="1.66"/>
<line x1="828.9" y1="193.4" x2="842.9" y2="193.4" stroke-width="1.66"/>
<line x1="828.9" y1="197.0" x2="843.3" y2="197.0" stroke-width="1.66"/>
<rect x="750.5" y="183.0" width="29.4" height="4.6" rx="0" stroke-width="1.7" fill="none"/>
<rect x="750.5" y="190.6" width="56.2" height="8.4" rx="0" stroke-width="1.79" fill="none"/>
<rect x="800.6" y="181.9" width="15.7" height="5.3" rx="2.6" stroke-width="1.79" fill="none"/>
<path d="M756,252.1 L848.3,252.1 Q850.3,252.1 850.3,254.1 L850.3,297.6 Q850.3,299.6 848.3,299.6 L756,299.6 Q754,299.6 754,297.6 L754,291.7 L757.2,291.7 L757.2,287.2 L754,287.2 L754,263.3 L757.2,263.3 L757.2,258.9 L754,258.9 L754,254.1 Q754,252.1 756,252.1 Z" stroke-width="1.9" fill="none"/>
<rect x="844.7" y="265.3" width="3.8" height="4.3" rx="0" stroke-width="1.54" fill="none"/>
<rect x="845.3" y="286.7" width="3.5" height="5.7" rx="0" stroke-width="1.54" fill="none"/>
<circle cx="778.9" cy="277.1" r="19.4" stroke-width="1.79" fill="none"/>
<circle cx="778.9" cy="277.1" r="16.3" stroke-width="1.54" fill="none"/>
<circle cx="778.9" cy="277.1" r="13.3" stroke-width="1.54" fill="none"/>
<circle cx="778.9" cy="277.1" r="10.3" stroke-width="1.54" fill="none"/>
<circle cx="778.9" cy="277.1" r="7.2" stroke-width="1.9" fill="#fff"/>
<line x1="786.1" y1="277.1" x2="798.3" y2="277.1" stroke-width="1.1"/>
<line x1="784.0" y1="282.2" x2="792.6" y2="290.8" stroke-width="1.1"/>
<line x1="778.9" y1="284.3" x2="778.9" y2="296.5" stroke-width="1.1"/>
<line x1="773.8" y1="282.2" x2="765.2" y2="290.8" stroke-width="1.1"/>
<line x1="771.7" y1="277.1" x2="759.5" y2="277.1" stroke-width="1.1"/>
<line x1="773.8" y1="272.0" x2="765.2" y2="263.4" stroke-width="1.1"/>
<line x1="778.9" y1="269.9" x2="778.9" y2="257.7" stroke-width="1.1"/>
<line x1="784.0" y1="272.0" x2="792.6" y2="263.4" stroke-width="1.1"/>
<circle cx="821.7" cy="277.1" r="19.4" stroke-width="1.79" fill="none"/>
<circle cx="821.7" cy="277.1" r="16.3" stroke-width="1.54" fill="none"/>
<circle cx="821.7" cy="277.1" r="13.3" stroke-width="1.54" fill="none"/>
<circle cx="821.7" cy="277.1" r="10.3" stroke-width="1.54" fill="none"/>
<circle cx="821.7" cy="277.1" r="7.2" stroke-width="1.9" fill="#fff"/>
<line x1="828.9" y1="277.1" x2="841.1" y2="277.1" stroke-width="1.1"/>
<line x1="826.8" y1="282.2" x2="835.4" y2="290.8" stroke-width="1.1"/>
<line x1="821.7" y1="284.3" x2="821.7" y2="296.5" stroke-width="1.1"/>
<line x1="816.6" y1="282.2" x2="808.0" y2="290.8" stroke-width="1.1"/>
<line x1="814.5" y1="277.1" x2="802.3" y2="277.1" stroke-width="1.1"/>
<line x1="816.6" y1="272.0" x2="808.0" y2="263.4" stroke-width="1.1"/>
<line x1="821.7" y1="269.9" x2="821.7" y2="257.7" stroke-width="1.1"/>
<line x1="826.8" y1="272.0" x2="835.4" y2="263.4" stroke-width="1.1"/>
</g>
<g transform="translate(211.3,0)">
</g>
<circle cx="990.2" cy="384.5" r="92.7" stroke-width="1.9" fill="#fff"/>
<g transform="translate(211.3,0)">
<path d="M722,302.4 L722,314.5 L728,314.5 L740.5,306.2 L740.5,302.4 Z" stroke-width="1.79" fill="#fff"/>
<path d="M844.5,302.4 L844.5,315 L839,315 L821.5,306.8 L821.5,302.4 Z" stroke-width="1.79" fill="#fff"/>
<line x1="740.5" y1="306.3" x2="821.5" y2="306.6" stroke-width="1.6"/>
</g>
<circle cx="990.2" cy="384.5" r="79.6" stroke-width="1.9" fill="none"/>
<circle cx="990.2" cy="384.5" r="65.1" stroke-width="1.9" fill="none"/>
<g clip-path="url(#mc1)" stroke-width="2.05">
<line x1="933.33" y1="328.5" x2="933.33" y2="440.5"/>
<line x1="934.2" y1="327.63" x2="1046.2" y2="327.63"/>
<line x1="938.50" y1="328.5" x2="938.50" y2="440.5"/>
<line x1="934.2" y1="332.80" x2="1046.2" y2="332.80"/>
<line x1="943.67" y1="328.5" x2="943.67" y2="440.5"/>
<line x1="934.2" y1="337.97" x2="1046.2" y2="337.97"/>
<line x1="948.84" y1="328.5" x2="948.84" y2="440.5"/>
<line x1="934.2" y1="343.14" x2="1046.2" y2="343.14"/>
<line x1="954.01" y1="328.5" x2="954.01" y2="440.5"/>
<line x1="934.2" y1="348.31" x2="1046.2" y2="348.31"/>
<line x1="959.18" y1="328.5" x2="959.18" y2="440.5"/>
<line x1="934.2" y1="353.48" x2="1046.2" y2="353.48"/>
<line x1="964.35" y1="328.5" x2="964.35" y2="440.5"/>
<line x1="934.2" y1="358.65" x2="1046.2" y2="358.65"/>
<line x1="969.52" y1="328.5" x2="969.52" y2="440.5"/>
<line x1="934.2" y1="363.82" x2="1046.2" y2="363.82"/>
<line x1="974.69" y1="328.5" x2="974.69" y2="440.5"/>
<line x1="934.2" y1="368.99" x2="1046.2" y2="368.99"/>
<line x1="979.86" y1="328.5" x2="979.86" y2="440.5"/>
<line x1="934.2" y1="374.16" x2="1046.2" y2="374.16"/>
<line x1="985.03" y1="328.5" x2="985.03" y2="440.5"/>
<line x1="934.2" y1="379.33" x2="1046.2" y2="379.33"/>
<line x1="990.20" y1="328.5" x2="990.20" y2="440.5"/>
<line x1="934.2" y1="384.50" x2="1046.2" y2="384.50"/>
<line x1="995.37" y1="328.5" x2="995.37" y2="440.5"/>
<line x1="934.2" y1="389.67" x2="1046.2" y2="389.67"/>
<line x1="1000.54" y1="328.5" x2="1000.54" y2="440.5"/>
<line x1="934.2" y1="394.84" x2="1046.2" y2="394.84"/>
<line x1="1005.71" y1="328.5" x2="1005.71" y2="440.5"/>
<line x1="934.2" y1="400.01" x2="1046.2" y2="400.01"/>
<line x1="1010.88" y1="328.5" x2="1010.88" y2="440.5"/>
<line x1="934.2" y1="405.18" x2="1046.2" y2="405.18"/>
<line x1="1016.05" y1="328.5" x2="1016.05" y2="440.5"/>
<line x1="934.2" y1="410.35" x2="1046.2" y2="410.35"/>
<line x1="1021.22" y1="328.5" x2="1021.22" y2="440.5"/>
<line x1="934.2" y1="415.52" x2="1046.2" y2="415.52"/>
<line x1="1026.39" y1="328.5" x2="1026.39" y2="440.5"/>
<line x1="934.2" y1="420.69" x2="1046.2" y2="420.69"/>
<line x1="1031.56" y1="328.5" x2="1031.56" y2="440.5"/>
<line x1="934.2" y1="425.86" x2="1046.2" y2="425.86"/>
<line x1="1036.73" y1="328.5" x2="1036.73" y2="440.5"/>
<line x1="934.2" y1="431.03" x2="1046.2" y2="431.03"/>
<line x1="1041.90" y1="328.5" x2="1041.90" y2="440.5"/>
<line x1="934.2" y1="436.20" x2="1046.2" y2="436.20"/>
<line x1="1047.07" y1="328.5" x2="1047.07" y2="440.5"/>
<line x1="934.2" y1="441.37" x2="1046.2" y2="441.37"/>
</g>
<circle cx="990.2" cy="384.5" r="54.7" stroke-width="1.8" fill="none"/>
<g clip-path="url(#mc1)"><rect x="934.2" y="354.1" width="57" height="4.6" fill="#fff" stroke="none"/></g>
<rect x="991.2" y="344.4" width="24" height="24" fill="#fff" stroke-width="1.2"/>
<path d="M1010.2,358.7 A7.4,7.4 0 0 1 1005.5,363.4" stroke-width="1.6" fill="none"/>
<path d="M1000.9,363.4 A7.4,7.4 0 0 1 996.2,358.7" stroke-width="1.6" fill="none"/>
<path d="M996.2,354.1 A7.4,7.4 0 0 1 1000.9,349.4" stroke-width="1.6" fill="none"/>
<path d="M1005.5,349.4 A7.4,7.4 0 0 1 1010.2,354.1" stroke-width="1.6" fill="none"/>
<line x1="1003.2" y1="345.5" x2="1003.2" y2="367.5" stroke-width="1.54"/>
<circle cx="990.2" cy="384.5" r="3.8" stroke-width="1.79" fill="#fff"/>
<line x1="990.2" y1="380.7" x2="990.2" y2="388.3" stroke-width="1.66"/>
<g transform="translate(211.3,0)">
<path d="M712.9,302.4 L712.9,214.8 M854.1,214.8 L854.1,302.4 L712.9,302.4" stroke-width="1.9" fill="none"/>
<rect x="712.9" y="214.8" width="141.2" height="87.6" fill="#fff" stroke="none"/>
<path d="M712.9,214.8 L712.9,302.4 L854.1,302.4 L854.1,214.8" stroke-width="1.9" fill="none"/>
<rect x="701.8" y="202.6" width="153.9" height="12.2" rx="1" stroke-width="1.9" fill="#fff"/>
<path d="M703,214.8 L703,205 L712.9,205 L712.9,214.8" stroke-width="1.66" fill="none"/>
<path d="M703.6,214.8 L703.6,267.9 L712.9,267.9 M703.6,265.6 L712.9,265.6" stroke-width="1.66" fill="none"/>
<path d="M713.3,202.6 L716.2,176 Q716.4,174.1 718.5,174.1 L839,174.1 Q841.1,174.1 841.3,176 L844.2,202.6" stroke-width="1.9" fill="none"/>
<path d="M727.9,202.6 L727.9,179.9 L828.9,179.9 L828.9,202.6" stroke-width="1.9" fill="none"/>
<line x1="714.8" y1="193.4" x2="727.9" y2="193.4" stroke-width="1.66"/>
<line x1="714.4" y1="197.0" x2="727.9" y2="197.0" stroke-width="1.66"/>
<line x1="828.9" y1="193.4" x2="842.9" y2="193.4" stroke-width="1.66"/>
<line x1="828.9" y1="197.0" x2="843.3" y2="197.0" stroke-width="1.66"/>
<rect x="750.5" y="183.0" width="29.4" height="4.6" rx="0" stroke-width="1.7" fill="none"/>
<rect x="750.5" y="190.6" width="56.2" height="8.4" rx="0" stroke-width="1.79" fill="none"/>
<rect x="800.6" y="181.9" width="15.7" height="5.3" rx="2.6" stroke-width="1.79" fill="none"/>
<path d="M756,252.1 L848.3,252.1 Q850.3,252.1 850.3,254.1 L850.3,297.6 Q850.3,299.6 848.3,299.6 L756,299.6 Q754,299.6 754,297.6 L754,291.7 L757.2,291.7 L757.2,287.2 L754,287.2 L754,263.3 L757.2,263.3 L757.2,258.9 L754,258.9 L754,254.1 Q754,252.1 756,252.1 Z" stroke-width="1.9" fill="none"/>
<rect x="844.7" y="265.3" width="3.8" height="4.3" rx="0" stroke-width="1.54" fill="none"/>
<rect x="845.3" y="286.7" width="3.5" height="5.7" rx="0" stroke-width="1.54" fill="none"/>
<circle cx="778.9" cy="277.1" r="19.4" stroke-width="1.79" fill="none"/>
<circle cx="778.9" cy="277.1" r="16.3" stroke-width="1.54" fill="none"/>
<circle cx="778.9" cy="277.1" r="13.3" stroke-width="1.54" fill="none"/>
<circle cx="778.9" cy="277.1" r="10.3" stroke-width="1.54" fill="none"/>
<circle cx="778.9" cy="277.1" r="7.2" stroke-width="1.9" fill="#fff"/>
<line x1="786.1" y1="277.1" x2="798.3" y2="277.1" stroke-width="1.1"/>
<line x1="784.0" y1="282.2" x2="792.6" y2="290.8" stroke-width="1.1"/>
<line x1="778.9" y1="284.3" x2="778.9" y2="296.5" stroke-width="1.1"/>
<line x1="773.8" y1="282.2" x2="765.2" y2="290.8" stroke-width="1.1"/>
<line x1="771.7" y1="277.1" x2="759.5" y2="277.1" stroke-width="1.1"/>
<line x1="773.8" y1="272.0" x2="765.2" y2="263.4" stroke-width="1.1"/>
<line x1="778.9" y1="269.9" x2="778.9" y2="257.7" stroke-width="1.1"/>
<line x1="784.0" y1="272.0" x2="792.6" y2="263.4" stroke-width="1.1"/>
<circle cx="821.7" cy="277.1" r="19.4" stroke-width="1.79" fill="none"/>
<circle cx="821.7" cy="277.1" r="16.3" stroke-width="1.54" fill="none"/>
<circle cx="821.7" cy="277.1" r="13.3" stroke-width="1.54" fill="none"/>
<circle cx="821.7" cy="277.1" r="10.3" stroke-width="1.54" fill="none"/>
<circle cx="821.7" cy="277.1" r="7.2" stroke-width="1.9" fill="#fff"/>
<line x1="828.9" y1="277.1" x2="841.1" y2="277.1" stroke-width="1.1"/>
<line x1="826.8" y1="282.2" x2="835.4" y2="290.8" stroke-width="1.1"/>
<line x1="821.7" y1="284.3" x2="821.7" y2="296.5" stroke-width="1.1"/>
<line x1="816.6" y1="282.2" x2="808.0" y2="290.8" stroke-width="1.1"/>
<line x1="814.5" y1="277.1" x2="802.3" y2="277.1" stroke-width="1.1"/>
<line x1="816.6" y1="272.0" x2="808.0" y2="263.4" stroke-width="1.1"/>
<line x1="821.7" y1="269.9" x2="821.7" y2="257.7" stroke-width="1.1"/>
<line x1="826.8" y1="272.0" x2="835.4" y2="263.4" stroke-width="1.1"/>
</g>
<path d="M693.3,272.5 L693.3,293.9 Q693.3,296.7 696.1,296.7 L703.9,296.7 L703.9,295.6 L712.8,295.6" stroke-width="1.8" fill="none"/>
<line x1="697.8" y1="272.5" x2="697.8" y2="296.7" stroke-width="1.6"/>
<line x1="703.9" y1="272.5" x2="703.9" y2="296.7" stroke-width="1.6"/>
<line x1="707.2" y1="272.5" x2="707.2" y2="295.6" stroke-width="1.6"/>
<line x1="697.8" y1="283.3" x2="703.9" y2="283.3" stroke-width="1.5"/>
<line x1="707.2" y1="283.3" x2="712.8" y2="283.3" stroke-width="1.5"/>
<line x1="778.7" y1="165.3" x2="778.7" y2="201.0" stroke-width="1.4"/>
<line x1="778.7" y1="208.2" x2="778.7" y2="213.3" stroke-width="1.4"/>
<line x1="778.7" y1="221.4" x2="778.7" y2="243.9" stroke-width="1.4"/>
<line x1="778.7" y1="250.0" x2="778.7" y2="323.7" stroke-width="1.4"/>
<line x1="778.7" y1="439.2" x2="778.7" y2="445.0" stroke-width="1.4"/>
<line x1="778.7" y1="451.2" x2="778.7" y2="459.4" stroke-width="1.4"/>
<line x1="778.7" y1="465.5" x2="778.7" y2="486.0" stroke-width="1.4"/>
<line x1="990.2" y1="165.3" x2="990.2" y2="201.0" stroke-width="1.4"/>
<line x1="990.2" y1="208.2" x2="990.2" y2="213.3" stroke-width="1.4"/>
<line x1="990.2" y1="221.4" x2="990.2" y2="243.9" stroke-width="1.4"/>
<line x1="990.2" y1="250.0" x2="990.2" y2="323.7" stroke-width="1.4"/>
<line x1="990.2" y1="439.2" x2="990.2" y2="445.0" stroke-width="1.4"/>
<line x1="990.2" y1="451.2" x2="990.2" y2="459.4" stroke-width="1.4"/>
<line x1="990.2" y1="465.5" x2="990.2" y2="486.0" stroke-width="1.4"/>
<line x1="600.0" y1="384.5" x2="691.7" y2="384.5" stroke-width="1.79"/>
<line x1="698.8" y1="384.5" x2="705.6" y2="384.5" stroke-width="1.79"/>
<line x1="715.0" y1="384.5" x2="724.5" y2="384.5" stroke-width="1.79"/>
<line x1="833.2" y1="384.5" x2="838.8" y2="384.5" stroke-width="1.79"/>
<line x1="845.9" y1="384.5" x2="876.4" y2="384.5" stroke-width="1.79"/>
<line x1="894.3" y1="384.5" x2="913.8" y2="384.5" stroke-width="1.79"/>
<line x1="920.9" y1="384.5" x2="928.1" y2="384.5" stroke-width="1.79"/>
<line x1="934.7" y1="384.5" x2="936.5" y2="384.5" stroke-width="1.79"/>
<line x1="1044.5" y1="384.5" x2="1047.9" y2="384.5" stroke-width="1.79"/>
<line x1="1055.5" y1="384.5" x2="1061.6" y2="384.5" stroke-width="1.79"/>
<line x1="1068.3" y1="384.5" x2="1127.4" y2="384.5" stroke-width="1.79"/>
<line x1="854.1" y1="271.2" x2="905.0" y2="271.2" stroke-width="2.2"/>
<line x1="854.7" y1="280.9" x2="903.4" y2="280.9" stroke-width="1.6"/>
<path d="M869.5,280.2 L871.6,275 L873.7,280.2 Z" stroke-width="1.41" fill="none"/>
<path d="M869.8,494.6 L871.8,489.8 L873.8,494.6 Z" stroke-width="1.41" fill="none"/>
<path d="M860.1,281 Q866,300 869.1,326.6 L897.4,326.6 M907,296.5 Q902,312 901,323.6" stroke-width="1.7" fill="none"/>
<path d="M895,327.2 L905.2,338.7 M886.6,351.3 L900.4,339.9 L908.2,338.7" stroke-width="1.7" fill="none"/>
<path d="M923.9,270 L907.2,270 Q905.2,270 905.2,272 L905.2,294.5 Q905.2,296.5 907.2,296.5 L923.9,296.5" stroke-width="1.79" fill="none"/>
<line x1="908.8" y1="270.0" x2="908.8" y2="296.5" stroke-width="1.54"/>
<line x1="916.1" y1="270.0" x2="916.1" y2="296.5" stroke-width="1.54"/>
<line x1="919.1" y1="270.0" x2="919.1" y2="296.5" stroke-width="1.54"/>
<line x1="905.2" y1="282.1" x2="923.9" y2="282.1" stroke-width="1.41"/>
<line x1="919.1" y1="262.0" x2="923.9" y2="262.0" stroke-width="1.54"/>
<line x1="919.1" y1="262.0" x2="919.1" y2="270.0" stroke-width="1.54"/>
<rect x="881.8" y="279.7" width="5.6" height="8.5" rx="1" stroke-width="1.79" fill="#fff"/>
<rect x="881.2" y="288.2" width="6.8" height="3.6" rx="0.8" stroke-width="1.79" fill="#fff"/>
<path d="M884.7,292.0 L884.7,307.0 L884.7,307.0 L882.9,307.8 L881.3,308.6 L879.8,309.4 L878.5,310.2 L877.6,311.0 L877.0,311.8 L876.8,312.6 L877.0,312.9 L877.6,313.2 L878.5,313.5 L879.8,313.8 L881.3,314.1 L882.9,314.4 L884.7,314.8 L886.5,315.1 L888.1,315.4 L889.6,315.7 L890.9,316.0 L891.8,316.3 L892.4,316.6 L892.6,316.9 L892.4,317.2 L891.8,317.5 L890.9,317.8 L889.6,318.1 L888.1,318.4 L886.5,318.7 L884.7,319.0 L882.9,319.3 L881.3,319.6 L879.8,319.9 L878.5,320.2 L877.6,320.5 L877.0,320.8 L876.8,321.1 L877.0,321.4 L877.6,321.7 L878.5,322.0 L879.8,322.3 L881.3,322.6 L882.9,322.9 L884.7,323.2 L886.5,323.6 L888.1,323.9 L889.6,324.2 L890.9,324.5 L891.8,324.8 L892.4,325.1 L892.6,325.4 L892.4,325.7 L891.8,326.0 L890.9,326.3 L889.6,326.6 L888.1,326.9 L886.5,327.2 L884.7,327.5 L882.9,327.8 L881.3,328.1 L879.8,328.4 L878.5,328.7 L877.6,329.0 L877.0,329.3 L876.8,329.6 L877.0,329.9 L877.6,330.2 L878.5,330.5 L879.8,330.8 L881.3,331.1 L882.9,331.4 L884.7,331.8 L886.5,332.1 L888.1,332.4 L889.6,332.7 L890.9,333.0 L891.8,333.3 L892.4,333.6 L892.6,333.9 L892.4,334.2 L891.8,334.5 L890.9,334.8 L889.6,335.1 L888.1,335.4 L886.5,335.7 L884.7,336.0 L882.9,336.3 L881.3,336.6 L879.8,336.9 L878.5,337.2 L877.6,337.5 L877.0,337.8 L876.8,338.1 L877.0,338.4 L877.6,338.7 L878.5,339.0 L879.8,339.3 L881.3,339.6 L882.9,339.9 L884.7,340.2 L886.5,340.6 L888.1,340.9 L889.6,341.2 L890.9,341.5 L891.8,341.8 L892.4,342.1 L892.6,342.4 C892.6,346.4 884.7,345.4 884.7,350.9 L884.7,353.5" stroke-width="2.9" fill="none" stroke-linejoin="round" stroke-linecap="round"/>
<path d="M876.4,387 L876.4,364 Q876.4,359 881,359 L889.5,359 L889.5,366 L894.3,362 L894.3,387 Z" stroke-width="1.79" fill="#fff"/>
<rect x="879.8" y="359.0" width="7.4" height="6.0" rx="0" stroke-width="1.6" fill="#141414"/>
<line x1="876.4" y1="371.0" x2="894.3" y2="371.0" stroke-width="1.66"/>
<line x1="876.4" y1="375.5" x2="894.3" y2="375.5" stroke-width="1.66"/>
<line x1="881.5" y1="375.5" x2="881.5" y2="387.0" stroke-width="1.54"/>
<line x1="888.5" y1="375.5" x2="888.5" y2="387.0" stroke-width="1.54"/>
<rect x="878.6" y="387.0" width="12.4" height="8.0" rx="1" stroke-width="1.79" fill="#fff"/>
<line x1="878.6" y1="390.5" x2="891.0" y2="390.5" stroke-width="2"/>
<path d="M879.6,395 L880.6,402.4 L889,402.4 L890,395" stroke-width="1.79" fill="none"/>
<line x1="882.5" y1="395.0" x2="882.5" y2="402.4" stroke-width="1.41"/>
<line x1="887.0" y1="395.0" x2="887.0" y2="402.4" stroke-width="1.41"/>
<path d="M884.6,402.4 L884.6,412.8 L884.6,412.8 L886.4,413.6 L888.0,414.5 L889.5,415.3 L890.8,416.2 L891.7,417.0 L892.3,417.9 L892.5,418.7 L892.3,419.0 L891.7,419.4 L890.8,419.7 L889.5,420.1 L888.0,420.4 L886.4,420.8 L884.6,421.1 L882.8,421.4 L881.2,421.8 L879.7,422.1 L878.4,422.5 L877.5,422.8 L876.9,423.2 L876.7,423.5 L876.9,423.8 L877.5,424.2 L878.4,424.5 L879.7,424.9 L881.2,425.2 L882.8,425.6 L884.6,425.9 L886.4,426.2 L888.0,426.6 L889.5,426.9 L890.8,427.3 L891.7,427.6 L892.3,428.0 L892.5,428.3 L892.3,428.6 L891.7,429.0 L890.8,429.3 L889.5,429.7 L888.0,430.0 L886.4,430.4 L884.6,430.7 L882.8,431.0 L881.2,431.4 L879.7,431.7 L878.4,432.1 L877.5,432.4 L876.9,432.8 L876.7,433.1 L876.9,433.4 L877.5,433.8 L878.4,434.1 L879.7,434.5 L881.2,434.8 L882.8,435.2 L884.6,435.5 L886.4,435.8 L888.0,436.2 L889.5,436.5 L890.8,436.9 L891.7,437.2 L892.3,437.6 L892.5,437.9 L892.3,438.2 L891.7,438.6 L890.8,438.9 L889.5,439.3 L888.0,439.6 L886.4,440.0 L884.6,440.3 L882.8,440.6 L881.2,441.0 L879.7,441.3 L878.4,441.7 L877.5,442.0 L876.9,442.4 L876.7,442.7 L876.9,443.0 L877.5,443.4 L878.4,443.7 L879.7,444.1 L881.2,444.4 L882.8,444.8 L884.6,445.1 L886.4,445.4 L888.0,445.8 L889.5,446.1 L890.8,446.5 L891.7,446.8 L892.3,447.2 L892.5,447.5 C892.5,451.5 884.6,450.5 884.6,456.0 L884.6,475.0" stroke-width="2.9" fill="none" stroke-linejoin="round" stroke-linecap="round"/>
<path d="M870.7,404.9 L899,410.1 M866.7,419.5 L878.5,423.5 M891.1,423.5 L902.2,419.5" stroke-width="1.66" fill="none"/>
<path d="M840.7,455 L862,469.9 L862,484.4 Q862,487.7 858.5,487.7" stroke-width="1.7" fill="none"/>
<path d="M928.9,455 L906.9,469.9 L906.9,484.4 Q906.9,487.7 910.4,487.7" stroke-width="1.7" fill="none"/>
<rect x="835.7" y="487.7" width="98.0" height="9.5" rx="1.5" stroke-width="1.8" fill="#fff"/>
<path d="M869.8,494.6 L871.8,489.8 L873.8,494.6 Z" stroke-width="1.41" fill="none"/>
<circle cx="884.5" cy="482.4" r="7.9" stroke-width="1.5" fill="#fff"/>
<path d="M880.8,477.5 L880.8,486.5 Q884.5,490.5 888.2,486.5 L888.2,477.5 Z" stroke-width="1.66" fill="none"/>
<line x1="884.5" y1="480.0" x2="884.5" y2="488.5" stroke-width="1.41"/>
<line x1="643.8" y1="482.0" x2="896.7" y2="482.0" stroke-width="1.85"/>
<line x1="643.8" y1="356.3" x2="991.0" y2="356.3" stroke-width="1.85"/>
<line x1="556.3" y1="271.3" x2="904.6" y2="271.3" stroke-width="1.85"/>
<circle cx="284.4" cy="905.7" r="53.4" stroke-width="1.9" fill="none"/>
<circle cx="284.4" cy="905.7" r="40.5" stroke-width="1.7" fill="none" stroke-dasharray="12 5"/>
<circle cx="284.4" cy="905.7" r="32.5" stroke-width="1.9" fill="none"/>
<circle cx="284.4" cy="905.7" r="16.4" stroke-width="1.9" fill="none"/>
<circle cx="255.1" cy="877.7" r="6.0" stroke-width="1.79" fill="#fff"/>
<line x1="251.2" y1="881.8" x2="259.4" y2="873.2" stroke-width="1.54"/>
<path d="M227.39999999999998,905.7 L324.4,905.7" stroke-width="1.5" fill="none" stroke-dasharray="9 4"/>
<path d="M284.4,848.7 L284.4,961.7" stroke-width="1.5" fill="none" stroke-dasharray="14 4 7 4"/>
<path d="M832.0,829.2 A93.5,93.5 0 1 0 811.0,994.2" stroke-width="2.2" fill="none" stroke-dasharray="6.4 3.8"/>
<path d="M824.8,858.8 A70.5,70.5 0 1 0 804.9,977.4" stroke-width="2.2" fill="none" stroke-dasharray="6.4 3.8"/>
<path d="M827.3,907.5 A49.3,49.3 0 1 0 799.6,950.1" stroke-width="2.2" fill="none" stroke-dasharray="6.4 3.8"/>
<path d="M763.9,886.9 A24.6,24.6 0 0 0 759.4,921.1 L808.5,954.2" stroke-width="2.2" fill="none" stroke-dasharray="6.4 3.8"/>
<path d="M786.3,884 L855.4,931 L884.2,949.5" stroke-width="2.2" fill="none" stroke-dasharray="6.4 3.8"/>
<path d="M945.6,823.7 A93.5,93.5 0 1 1 929.4,977.9" stroke-width="2.2" fill="none" stroke-dasharray="6.4 3.8"/>
<path d="M946,823.7 C958,828.5 975,827.6 990,827.8 A75.6,75.6 0 1 1 956.9,971.3" stroke-width="2.2" fill="none" stroke-dasharray="6.4 3.8"/>
<path d="M939.1,908.0 A50.2,50.2 0 1 1 968.1,951.7" stroke-width="2.2" fill="none" stroke-dasharray="6.4 3.8"/>
<path d="M1004.4,886.9 A24.6,24.6 0 0 1 1008.9,921.1 L907.2,991.7 L907.2,1008.6" stroke-width="2.2" fill="none" stroke-dasharray="6.4 3.8"/>
<path d="M982,884.4 L928.5,919.8 Q915,929.5 905.6,938.9 Q896,945 884.2,949.5" stroke-width="2.2" fill="none" stroke-dasharray="6.4 3.8"/>
<path d="M902.9,849.6 Q920,858.5 953.1,863.3 L962.5,864" stroke-width="2.2" fill="none" stroke-dasharray="6.4 3.8"/>
<path d="M850,803.5 Q853.5,804.5 851.5,808 L834.3,831.6 M830,829 L836,833.5 M831.7,836.9 L823.5,860 Q822,863 819.5,861 L815.8,858" stroke-width="2.2" fill="none" stroke-dasharray="6.4 3.8"/>
<path d="M858.9,804.3 Q866.5,822 867.7,840.4 Q868,848.8 871.5,848.8 L900.5,848.8 Q903,848.8 901.2,840.4 Q902,822 909.1,804.3" stroke-width="2.2" fill="none" stroke-dasharray="6.4 3.8"/>
<path d="M917,803.5 Q920.5,803.5 920.5,807 Q922,816 946,823.7" stroke-width="2.2" fill="none" stroke-dasharray="6.4 3.8"/>
<path d="M870.4,850.5 Q858.5,868 856.8,906.3 L855.4,931.5 L928.5,920.4" stroke-width="2.2" fill="none" stroke-dasharray="6.4 3.8"/>
<path d="M854.8,986.1 Q861.8,988 861.8,995 L861.8,1008.6" stroke-width="2.2" fill="none" stroke-dasharray="6.4 3.8"/>
<path d="M933.2,794.3 L933.2,803.1 L835.7,803.1 L835.7,794.3" stroke-width="2.2" fill="none" stroke-dasharray="6.4 3.8"/>
<path d="M835.7,794.3 L845,794.3 L845,793 L857,793 L857,794.3 L866,794.3 L866,793 L878,793 L878,794.3 L890,794.3 L890,793 L902,793 L902,794.3 L911,794.3 L911,793 L923,793 L923,794.3 L933.2,794.3" stroke-width="2.2" fill="none" stroke-dasharray="6.4 3.8"/>
<path d="M835.2,1009.5 L933.4,1009.5 L933.4,1017.9 M835.2,1009.5 L835.2,1017.9" stroke-width="2.2" fill="none" stroke-dasharray="6.4 3.8"/>
<path d="M835.2,1017.9 L846,1017.9 L846,1019.2 L858,1019.2 L858,1017.9 L868,1017.9 L868,1019.2 L880,1019.2 L880,1017.9 L890,1017.9 L890,1019.2 L902,1019.2 L902,1017.9 L912,1017.9 L912,1019.2 L922,1019.2 L922,1017.9 L933.4,1017.9" stroke-width="2.2" fill="none" stroke-dasharray="6.4 3.8"/>
<path d="M671.3,906.3 L1078,906.3" stroke-width="1.95" fill="none" stroke-dasharray="21 7.5 7 6.5"/>
<path d="M884.2,787.6 L884.2,1026" stroke-width="1.95" fill="none" stroke-dasharray="21 7.5 7 6.5"/>
<circle cx="720.5" cy="906.3" r="6.0" stroke-width="1.9" fill="none"/>
<line x1="720.5" y1="894.8" x2="720.5" y2="918.1" stroke-width="1.8"/>
<circle cx="1056.1" cy="906.3" r="6.0" stroke-width="1.9" fill="none"/>
<line x1="1056.1" y1="894.8" x2="1056.1" y2="918.1" stroke-width="1.8"/>
<circle cx="768.2" cy="851.4" r="3.9" stroke-width="1.8" fill="none"/>
<line x1="759.2" y1="851.4" x2="776.9" y2="851.4" stroke-width="1.7"/>
<circle cx="768.2" cy="876.9" r="8.8" stroke-width="1.9" fill="none"/>
<circle cx="768.2" cy="876.9" r="3.9" stroke-width="1.8" fill="none"/>
<line x1="749.2" y1="876.9" x2="784.7" y2="876.9" stroke-width="1.7"/>
<path d="M780.1,841.6 L780.1,887.7 L753.1,887.7" stroke-width="1.9" fill="none"/>
<path d="M753.1,887.7 L753.1,841.6 L780.1,841.6" stroke-width="1.9" fill="none" stroke-dasharray="5.5 3.5"/>
<path d="M758.8,884.9 L758.8,867.9 L776.7,867.9" stroke-width="1.8" fill="none"/>
<path d="M775.2,843.6 L775.2,864.4" stroke-width="1.7" fill="none" stroke-dasharray="5 3"/>
<line x1="764.2" y1="857.9" x2="772.2" y2="857.9" stroke-width="1.7"/>
<line x1="764.2" y1="860.9" x2="772.2" y2="860.9" stroke-width="1.7"/>
<line x1="764.2" y1="843.1" x2="772.2" y2="843.1" stroke-width="1.7"/>
<line x1="768.2" y1="697.0" x2="768.2" y2="890.5" stroke-width="1.85"/>
<circle cx="1000.7" cy="851.4" r="3.9" stroke-width="1.8" fill="none"/>
<line x1="991.7" y1="851.4" x2="1009.4" y2="851.4" stroke-width="1.7"/>
<circle cx="1000.7" cy="877.2" r="8.8" stroke-width="1.9" fill="none"/>
<circle cx="1000.7" cy="877.2" r="3.9" stroke-width="1.8" fill="none"/>
<line x1="981.7" y1="877.2" x2="1017.2" y2="877.2" stroke-width="1.7"/>
<path d="M1012.6,888.0 L985.6,888.0" stroke-width="1.9" fill="none"/>
<path d="M1012.6,841.6 L1012.6,860.4 M1012.6,865.2 L1012.6,888.0" stroke-width="1.9" fill="none" stroke-dasharray="5.5 3.5"/>
<path d="M1007.6,860.4 L1010.6,862.4 L1012.6,865.4" stroke-width="1.7" fill="none"/>
<path d="M985.6,888.0 L985.6,841.6 L1012.6,841.6" stroke-width="1.9" fill="none" stroke-dasharray="5.5 3.5"/>
<path d="M991.3,885.2 L991.3,868.2 L1009.2,868.2" stroke-width="1.8" fill="none"/>
<path d="M1007.7,843.6 L1007.7,864.4" stroke-width="1.7" fill="none" stroke-dasharray="5 3"/>
<line x1="996.7" y1="857.9" x2="1004.7" y2="857.9" stroke-width="1.7"/>
<line x1="996.7" y1="860.9" x2="1004.7" y2="860.9" stroke-width="1.7"/>
<line x1="996.7" y1="843.1" x2="1004.7" y2="843.1" stroke-width="1.7"/>
<line x1="1000.9" y1="697.0" x2="1000.9" y2="890.4" stroke-width="1.85"/>
<circle cx="884.4" cy="978.3" r="4.8" stroke-width="1.8" fill="none"/>
<line x1="875.0" y1="978.3" x2="893.0" y2="978.3" stroke-width="1.7"/>
<circle cx="884.4" cy="1004.3" r="8.4" stroke-width="1.9" fill="none"/>
<circle cx="884.4" cy="1004.3" r="4.0" stroke-width="1.8" fill="none"/>
<circle cx="884.4" cy="1004.3" r="1.5" stroke-width="1.6" fill="none"/>
<line x1="870.0" y1="1004.3" x2="900.0" y2="1004.3" stroke-width="1.7"/>
<path d="M868.9,1014.2 L868.9,968.4 L896.9,968.4 L896.9,1014.2 Z" stroke-width="1.9" fill="none" stroke-dasharray="5.5 3.5"/>
<path d="M874.5,1012 L874.5,996 L892,996" stroke-width="1.7" fill="none"/>
<path d="M875,973 L875,990" stroke-width="1.7" fill="none" stroke-dasharray="5 3"/>
<line x1="880.0" y1="984.0" x2="889.0" y2="984.0" stroke-width="1.7"/>
<line x1="880.0" y1="987.5" x2="889.0" y2="987.5" stroke-width="1.7"/>
</svg>
</body></html>
